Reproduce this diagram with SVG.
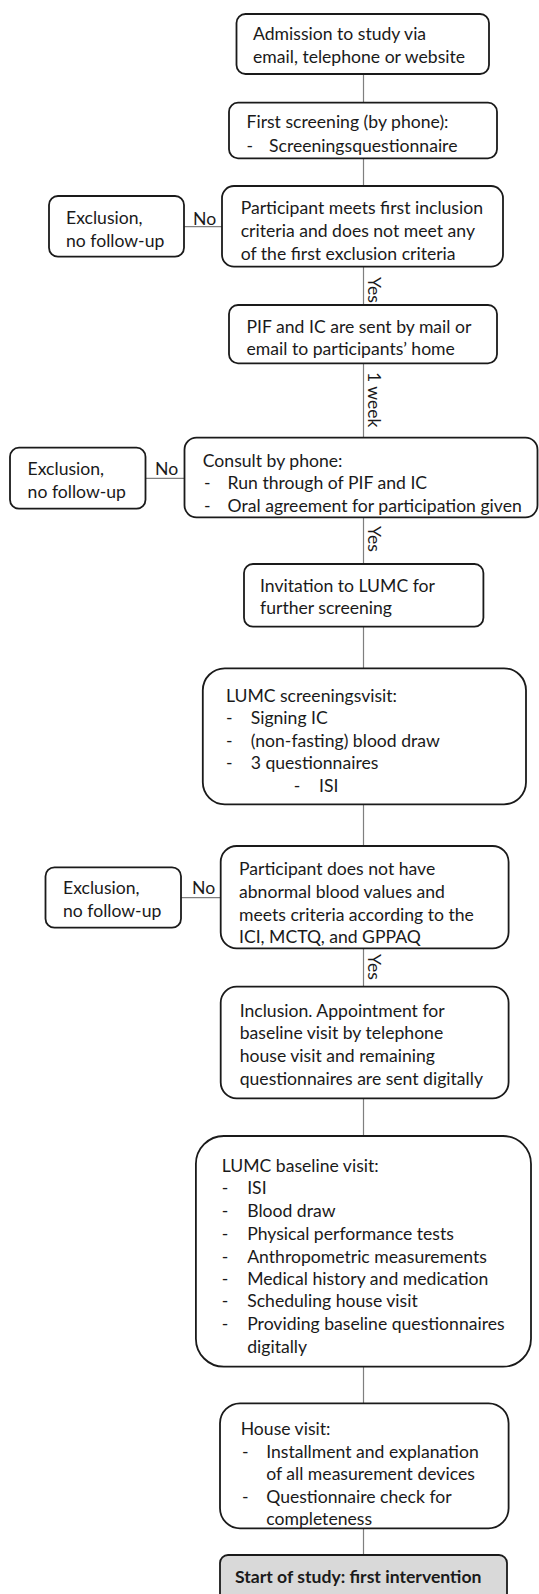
<svg xmlns="http://www.w3.org/2000/svg" width="539" height="1594" viewBox="0 0 539 1594">
<style>
.box{fill:#ffffff;stroke:#1a1a1a;stroke-width:1.8}
.start{fill:#d9d9d9;stroke:#1a1a1a;stroke-width:1.8}
.t{font-family:Lato,"Liberation Sans",sans-serif;font-size:17.6px;fill:#1a1a1a}
.b{font-weight:bold}
.conn line{stroke:#7f7f7f;stroke-width:1.2}
</style>
<rect width="539" height="1594" fill="#ffffff"/>
<g id="connectors" class="conn">
<line x1="363.5" y1="74" x2="363.5" y2="103"/>
<line x1="363.5" y1="158" x2="363.5" y2="186"/>
<line x1="363.5" y1="267" x2="363.5" y2="305"/>
<line x1="363.5" y1="363" x2="363.5" y2="438"/>
<line x1="363.5" y1="517" x2="363.5" y2="564"/>
<line x1="363.5" y1="627" x2="363.5" y2="668"/>
<line x1="363.5" y1="804" x2="363.5" y2="846"/>
<line x1="363.5" y1="948" x2="363.5" y2="987"/>
<line x1="363.5" y1="1098" x2="363.5" y2="1136"/>
<line x1="363.5" y1="1367" x2="363.5" y2="1403"/>
<line x1="363.5" y1="1528" x2="363.5" y2="1555"/>
<line x1="184" y1="226.7" x2="222" y2="226.7"/>
<line x1="145.5" y1="478.3" x2="184.5" y2="478.3"/>
<line x1="181" y1="897.7" x2="220.7" y2="897.7"/>
<text class="t" x="193" y="225">No</text>
<text class="t" x="155" y="475">No</text>
<text class="t" x="192" y="894">No</text>
<text class="t" transform="translate(368,277) rotate(90)">Yes</text>
<text class="t" transform="translate(368,372) rotate(90)">1 week</text>
<text class="t" transform="translate(368,526) rotate(90)">Yes</text>
<text class="t" transform="translate(368,954) rotate(90)">Yes</text>
</g>
<g id="n1">
<rect class="box" x="236.5" y="14" width="252.5" height="60" rx="9"/>
<text class="t" x="253" y="40">Admission to study via</text>
<text class="t" x="253" y="62.7">email, telephone or website</text>
</g>
<g id="n2">
<rect class="box" x="229" y="102.7" width="268" height="55.6" rx="9"/>
<text class="t" x="246.5" y="128.3">First screening (by phone):</text>
<text class="t" x="246.5" y="151.7">-</text>
<text class="t" x="269" y="151.7">Screeningsquestionnaire</text>
</g>
<g id="n3">
<rect class="box" x="222" y="186" width="281" height="80.7" rx="12"/>
<text class="t" x="240.7" y="214.3">Participant meets first inclusion</text>
<text class="t" x="240.7" y="237.3">criteria and does not meet any</text>
<text class="t" x="240.7" y="260">of the first exclusion criteria</text>
</g>
<g id="ex1">
<rect class="box" x="49" y="196" width="135" height="60.7" rx="9"/>
<text class="t" x="66" y="224">Exclusion,</text>
<text class="t" x="66" y="246.7">no follow-up</text>
</g>
<g id="n4">
<rect class="box" x="229" y="305" width="268" height="58.3" rx="9"/>
<text class="t" x="246.5" y="332.7">PIF and IC are sent by mail or</text>
<text class="t" x="246.5" y="355">email to participants’ home</text>
</g>
<g id="n5">
<rect class="box" x="184.5" y="437.7" width="353" height="79.6" rx="12"/>
<text class="t" x="202.8" y="466.7">Consult by phone:</text>
<text class="t" x="204" y="489.3">-</text>
<text class="t" x="227.6" y="489.3">Run through of PIF and IC</text>
<text class="t" x="204" y="511.7">-</text>
<text class="t" x="227.6" y="511.7">Oral agreement for participation given</text>
</g>
<g id="ex2">
<rect class="box" x="10" y="447.7" width="135.5" height="61" rx="9"/>
<text class="t" x="27.6" y="475">Exclusion,</text>
<text class="t" x="27.6" y="498.3">no follow-up</text>
</g>
<g id="n6">
<rect class="box" x="244" y="564" width="239.4" height="62.7" rx="9"/>
<text class="t" x="260" y="591.7">Invitation to LUMC for</text>
<text class="t" x="260" y="614">further screening</text>
</g>
<g id="n7">
<rect class="box" x="202.8" y="668.3" width="323.2" height="136" rx="22"/>
<text class="t" x="225.9" y="701.7">LUMC screeningsvisit:</text>
<text class="t" x="225.9" y="724.3">-</text>
<text class="t" x="250.7" y="724.3">Signing IC</text>
<text class="t" x="225.9" y="746.7">-</text>
<text class="t" x="250.7" y="746.7">(non-fasting) blood draw</text>
<text class="t" x="225.9" y="769.3">-</text>
<text class="t" x="250.7" y="769.3">3 questionnaires</text>
<text class="t" x="293.8" y="791.7">-</text>
<text class="t" x="319" y="791.7">ISI</text>
</g>
<g id="n8">
<rect class="box" x="220.7" y="846" width="287.9" height="102.3" rx="16"/>
<text class="t" x="239" y="875">Participant does not have</text>
<text class="t" x="239" y="897.7">abnormal blood values and</text>
<text class="t" x="239" y="920.7">meets criteria according to the</text>
<text class="t" x="239" y="943.3">ICI, MCTQ, and GPPAQ</text>
</g>
<g id="ex3">
<rect class="box" x="45.5" y="867.3" width="135.5" height="60.4" rx="9"/>
<text class="t" x="63" y="894">Exclusion,</text>
<text class="t" x="63" y="917.3">no follow-up</text>
</g>
<g id="n9">
<rect class="box" x="220.7" y="986.7" width="287.9" height="111.6" rx="16"/>
<text class="t" x="239.7" y="1016.7">Inclusion. Appointment for</text>
<text class="t" x="239.7" y="1039.3">baseline visit by telephone</text>
<text class="t" x="239.7" y="1062.3">house visit and remaining</text>
<text class="t" x="239.7" y="1085">questionnaires are sent digitally</text>
</g>
<g id="n10">
<rect class="box" x="195.9" y="1136" width="335.1" height="230.7" rx="28"/>
<text class="t" x="221.7" y="1171.7">LUMC baseline visit:</text>
<text class="t" x="221.7" y="1194.3">-</text><text class="t" x="247.2" y="1194.3">ISI</text>
<text class="t" x="221.7" y="1217.3">-</text><text class="t" x="247.2" y="1217.3">Blood draw</text>
<text class="t" x="221.7" y="1240">-</text><text class="t" x="247.2" y="1240">Physical performance tests</text>
<text class="t" x="221.7" y="1262.7">-</text><text class="t" x="247.2" y="1262.7">Anthropometric measurements</text>
<text class="t" x="221.7" y="1285">-</text><text class="t" x="247.2" y="1285">Medical history and medication</text>
<text class="t" x="221.7" y="1307.3">-</text><text class="t" x="247.2" y="1307.3">Scheduling house visit</text>
<text class="t" x="221.7" y="1330">-</text><text class="t" x="247.2" y="1330">Providing baseline questionnaires</text>
<text class="t" x="247.2" y="1352.7">digitally</text>
</g>
<g id="n11">
<rect class="box" x="220" y="1403.3" width="288.6" height="125" rx="20"/>
<text class="t" x="240.7" y="1435">House visit:</text>
<text class="t" x="242" y="1457.7">-</text><text class="t" x="266.2" y="1457.7">Installment and explanation</text>
<text class="t" x="266.2" y="1480">of all measurement devices</text>
<text class="t" x="242" y="1502.7">-</text><text class="t" x="266.2" y="1502.7">Questionnaire check for</text>
<text class="t" x="266.2" y="1525">completeness</text>
</g>
<g id="n12">
<rect class="start" x="220" y="1555" width="287" height="50" rx="8"/>
<text class="t b" x="235" y="1583">Start of study: first intervention</text>
</g>
</svg>
